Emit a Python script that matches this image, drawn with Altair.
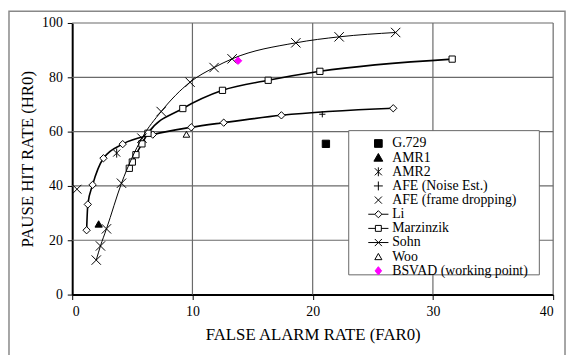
import altair as alt
import pandas as pd

FONT = "Liberation Serif"

# ---- data ----
li_x = [1.2, 1.3, 1.7, 2.6, 4.2, 6.7, 9.9, 12.6, 17.4, 26.7]
li_y = [23.7, 33.2, 40.4, 50.2, 55.4, 58.9, 61.6, 63.3, 66.0, 68.6]

marz_x = [4.75, 5.0, 5.3, 5.8, 6.3, 9.2, 12.5, 16.3, 20.6, 31.6]
marz_y = [46.5, 48.8, 51.5, 55.5, 59.4, 68.5, 75.2, 78.9, 82.2, 86.7]

sohn_x = [2.0, 2.35, 2.85, 4.1, 5.8, 7.4, 9.8, 11.8, 13.3, 18.6, 22.2, 26.9]
sohn_y = [12.7, 17.9, 24.2, 41.0, 57.6, 67.4, 78.2, 83.6, 86.8, 92.7, 94.9, 96.5]

g729_x, g729_y = [21.1], [55.5]
amr1_x, amr1_y = [2.2], [26.0]
amr2_x, amr2_y = [3.7], [52.1]
afe_noise_x, afe_noise_y = [20.8], [66.4]
afe_frame_x, afe_frame_y = [0.4], [38.8]
woo_x, woo_y = [9.5], [59.0]
bsvad_x, bsvad_y = [13.8], [86.1]

series_names = ["G.729", "AMR1", "AMR2", "AFE (Noise Est.)", "AFE (frame dropping)",
                "Li", "Marzinzik", "Sohn", "Woo", "BSVAD (working point)"]

x_domain = [0, 40]
y_domain = [0, 100]
x_ticks = [0, 10, 20, 30, 40]
y_ticks = [0, 20, 40, 60, 80, 100]
x_grid = [10, 20, 30, 40]
y_grid = [20, 40, 60, 80, 100]

# ---- marker shapes ----
CROSS = "M-1,-1L1,1M-1,1L1,-1"
PLUS = "M-1,0L1,0M0,-1L0,1"
ASTER = "M-0.85,-0.85L0.85,0.85M-0.85,0.85L0.85,-0.85M0,-1.1L0,1.1"

legend_shapes = [
    "M-0.65,-0.65H0.65V0.65H-0.65Z",
    "M0,-0.7L0.75,0.6H-0.75Z",
    "M-0.6,-0.6L0.6,0.6M-0.6,0.6L0.6,-0.6M0,-0.75V0.75",
    "M-0.75,0H0.75M0,-0.75V0.75",
    "M-0.6,-0.6L0.6,0.6M-0.6,0.6L0.6,-0.6",
    "M-1.7,0H-0.6M0.6,0H1.7M-0.6,0L0,-0.6L0.6,0L0,0.6Z",
    "M-1.7,0H-0.5M0.5,0H1.7M-0.5,-0.5H0.5V0.5H-0.5Z",
    "M-1.7,0H1.7M-0.6,-0.6L0.6,0.6M-0.6,0.6L0.6,-0.6",
    "M0,-0.55L0.6,0.5H-0.6Z",
    "M0,-0.7L0.55,0L0,0.7L-0.55,0Z",
]
legend_fills = ["black", "black", "transparent", "transparent", "transparent",
                "white", "white", "transparent", "transparent", "#ff00ff"]
legend_strokes = ["black"] * 9 + ["#ff00ff"]


def frame(xs, ys):
    return pd.DataFrame({"far": xs, "hr": ys})


axis_style = dict(
    grid=False,
    labelFont=FONT, labelFontSize=14, labelColor="black", labelPadding=5,
    titleFont=FONT, titleFontSize=17, titleFontWeight="normal", titleColor="black",
    domain=True, domainColor="black", domainWidth=2,
    ticks=True, tickColor="black", tickSize=5, tickWidth=1,
)

xscale = alt.Scale(domain=x_domain, nice=False)
yscale = alt.Scale(domain=y_domain, nice=False)
x_axis = alt.Axis(values=x_ticks, title="FALSE ALARM RATE (FAR0)", titlePadding=8, **axis_style)
y_axis = alt.Axis(values=y_ticks, title="PAUSE HIT RATE (HR0)", titlePadding=5, **axis_style)
X = alt.X("far:Q", scale=xscale, axis=x_axis)
Y = alt.Y("hr:Q", scale=yscale, axis=y_axis)

one = pd.DataFrame({"k": [0]})

outer = alt.Chart(one).mark_rect(fill="transparent", stroke="#888888", strokeWidth=1.5).encode(
    x=alt.value(-64), x2=alt.value(499), y=alt.value(-12), y2=alt.value(345))

# grid lines spanning the axis domain
grid_rows = []
for g in x_grid:
    grid_rows += [{"gid": f"v{g}", "far": g, "hr": y_domain[0]}, {"gid": f"v{g}", "far": g, "hr": y_domain[1]}]
for g in y_grid:
    grid_rows += [{"gid": f"h{g}", "far": x_domain[0], "hr": g}, {"gid": f"h{g}", "far": x_domain[1], "hr": g}]
grid_df = pd.DataFrame(grid_rows)
grid = alt.Chart(grid_df).mark_line(color="#6a6a6a", strokeWidth=1.2).encode(
    x=X, y=Y, detail="gid:N")

legend_box = alt.Chart(one).mark_rect(fill="white", stroke="#666666", strokeWidth=1).encode(
    x=alt.value(280), x2=alt.value(473), y=alt.value(109), y2=alt.value(255))


def curve(xs, ys, shape, size, width, fill="white"):
    d = frame(xs, ys)
    ln = alt.Chart(d).mark_line(color="black", strokeWidth=width, interpolate="monotone").encode(x=X, y=Y)
    pt = alt.Chart(d).mark_point(shape=shape, size=size, stroke="black", fill=fill,
                                 filled=False, fillOpacity=1, strokeWidth=1, opacity=1).encode(x=X, y=Y)
    return [ln, pt]


def single(xs, ys, shape, size, stroke="black", fill="transparent", sw=1):
    return alt.Chart(frame(xs, ys)).mark_point(shape=shape, size=size, stroke=stroke, fill=fill,
                                                filled=False, fillOpacity=1, opacity=1,
                                                strokeWidth=sw).encode(x=X, y=Y)


layers = [grid, legend_box]
layers += curve(li_x, li_y, "diamond", 55, 1.6)
layers += curve(marz_x, marz_y, "square", 40, 1.6)
layers += curve(sohn_x, sohn_y, CROSS, 90, 1.0, fill="transparent")
layers += [
    single(g729_x, g729_y, "square", 55, fill="black"),
    single(amr1_x, amr1_y, "triangle-up", 55, fill="black"),
    single(amr2_x, amr2_y, ASTER, 70),
    single(afe_noise_x, afe_noise_y, PLUS, 40),
    single(afe_frame_x, afe_frame_y, CROSS, 80),
    single(woo_x, woo_y, "triangle-up", 45),
    single(bsvad_x, bsvad_y, "diamond", 55, stroke="#ff00ff", fill="#ff00ff"),
    outer,
]

leg_df = pd.DataFrame({"series": series_names})
leg = alt.Legend(orient="none", legendX=292, legendY=115, title=None,
                 symbolSize=144, symbolStrokeWidth=1, symbolOpacity=1,
                 labelFont=FONT, labelFontSize=14, labelColor="black",
                 rowPadding=0.33, padding=0, symbolOffset=11, labelOffset=7,
                 labelLimit=300)
legend_layer = alt.Chart(leg_df).mark_point(opacity=0, filled=False).encode(
    shape=alt.Shape("series:N", scale=alt.Scale(domain=series_names, range=legend_shapes), legend=leg),
    fill=alt.Fill("series:N", scale=alt.Scale(domain=series_names, range=legend_fills), legend=leg),
    stroke=alt.Stroke("series:N", scale=alt.Scale(domain=series_names, range=legend_strokes), legend=leg),
)
layers.append(legend_layer)

chart = alt.layer(*layers).properties(
    width=487, height=275,
    autosize=alt.AutoSizeParams(type="none"),
    padding={"left": 65, "top": 13, "right": 13, "bottom": 59},
).configure_view(stroke=None).configure_axis(
    labelFont=FONT, labelFontSize=14, labelColor="black",
    titleFont=FONT, titleFontSize=17, titleFontWeight="normal", titleColor="black",
)

chart.save("out.html", embed_options={"renderer": "svg", "actions": False})
